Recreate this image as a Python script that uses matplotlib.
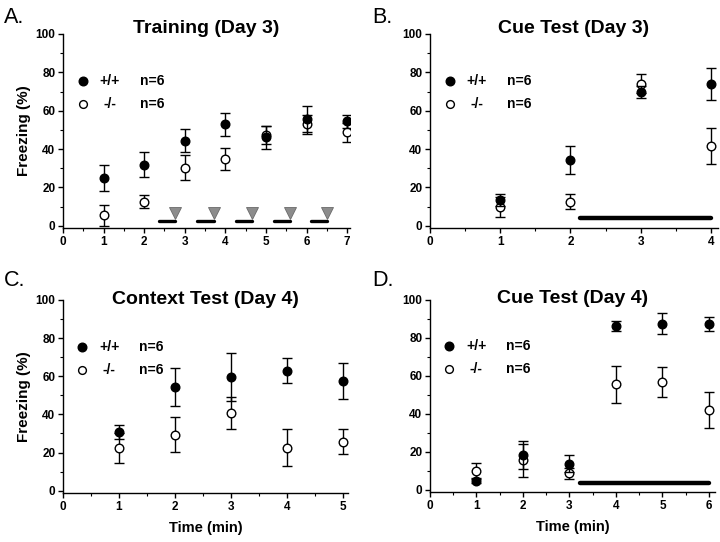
import matplotlib
matplotlib.use("Agg")
import matplotlib.pyplot as plt
import numpy as np

plt.rcParams['font.family'] = ['Liberation Sans', 'DejaVu Sans']

# ---------------- data ----------------
# Panel A: Training (Day 3)
a_time = [1, 2, 3, 4, 5, 6, 7]
a_wt = [25.0, 31.8, 44.3, 52.8, 46.2, 55.7, 54.5]
a_wt_err = [6.7, 6.4, 6.0, 6.0, 6.0, 7.0, 3.5]
a_ko = [5.5, 12.6, 30.3, 34.6, 47.4, 52.8, 48.8]
a_ko_err = [5.5, 3.5, 6.6, 5.7, 4.8, 5.2, 5.0]
a_tone_start = [2.37, 3.31, 4.26, 5.19, 6.11]
a_shock = [2.76, 3.71, 4.65, 5.60, 6.51]

# Panel B: Cue Test (Day 3)
b_time = [1, 2, 3, 4]
b_wt = [13.5, 34.4, 69.8, 73.9]
b_wt_err = [3.0, 7.4, 3.0, 8.2]
b_ko = [9.7, 12.5, 74.0, 41.6]
b_ko_err = [5.4, 4.0, 5.0, 9.6]
b_cue = [2.14, 4.0]

# Panel C: Context Test (Day 4)
c_time = [1, 2, 3, 4, 5]
c_wt = [30.6, 54.4, 59.8, 62.9, 57.4]
c_wt_err = [3.6, 9.9, 12.5, 6.6, 9.5]
c_ko = [22.4, 29.4, 40.7, 22.6, 25.6]
c_ko_err = [8.0, 9.1, 8.2, 9.6, 6.5]

# Panel D: Cue Test (Day 4)
d_time = [1, 2, 3, 4, 5, 6]
d_wt = [4.4, 18.2, 13.8, 86.2, 87.4, 87.4]
d_wt_err = [1.0, 7.5, 4.4, 2.7, 5.5, 3.5]
d_ko = [10.0, 15.6, 8.6, 55.5, 56.9, 41.9]
d_ko_err = [4.0, 8.7, 3.0, 9.6, 8.0, 9.6]
d_cue = [3.22, 6.0]

titles = ["Training (Day 3)", "Cue Test (Day 3)", "Context Test (Day 4)", "Cue Test (Day 4)"]
letters = ["A.", "B.", "C.", "D."]
legend_labels = ["+/+", "-/-"]
legend_n = ["n=6", "n=6"]

W, H = 720, 542
fig = plt.figure(figsize=(W / 100, H / 100), dpi=100)


def add_axes(left, right, top, bottom):
    return fig.add_axes([left / W, 1 - bottom / H, (right - left) / W, (bottom - top) / H])


axA = add_axes(63, 350, 34, 228)
axB = add_axes(430, 718, 34, 228)
axC = add_axes(63, 348, 300, 493)
axD = add_axes(430, 715, 300, 492)

panels = [
    (axA, a_time, a_wt, a_wt_err, a_ko, a_ko_err, 7.07),
    (axB, b_time, b_wt, b_wt_err, b_ko, b_ko_err, 4.1),
    (axC, c_time, c_wt, c_wt_err, c_ko, c_ko_err, 5.09),
    (axD, d_time, d_wt, d_wt_err, d_ko, d_ko_err, 6.13),
]

for i, (ax, t, wt, wte, ko, koe, xmax) in enumerate(panels):
    ax.errorbar(t, ko, yerr=koe, fmt='o', mfc='white', mec='black', mew=1.0, ms=6.2,
                ecolor='black', elinewidth=1.0, capsize=3.6, capthick=1.0, zorder=3)
    ax.errorbar(t, wt, yerr=wte, fmt='o', mfc='black', mec='black', mew=1.0, ms=6.2,
                ecolor='black', elinewidth=1.0, capsize=3.6, capthick=1.0, zorder=4)
    ax.set_xlim(0, xmax)
    ax.set_ylim(-1.2, 100)
    ax.set_yticks([0, 20, 40, 60, 80, 100])
    ax.set_yticks(np.arange(10, 100, 20), minor=True)
    ax.set_xticks(np.arange(0, int(xmax) + 1))
    ax.set_xticks(np.arange(0.5, xmax, 1.0), minor=True)
    for s in ['top', 'right']:
        ax.spines[s].set_visible(False)
    for s in ['left', 'bottom']:
        ax.spines[s].set_linewidth(1.0)
    ax.tick_params(which='major', direction='out', length=3.5, width=1.0, labelsize=8.5, pad=2)
    ax.tick_params(which='minor', direction='out', length=2, width=0.8)
    for lab in ax.get_xticklabels() + ax.get_yticklabels():
        lab.set_fontweight('bold')
    # legend
    tr = ax.get_yaxis_transform()
    ax.plot([0.068], [75.6], 'o', mfc='black', mec='black', ms=6.2, transform=tr, clip_on=False)
    ax.plot([0.068], [63.5], 'o', mfc='white', mec='black', mew=1.0, ms=5.6, transform=tr, clip_on=False)
    ax.text(0.128, 75.6, legend_labels[0], transform=tr, fontsize=10, fontweight='bold', va='center', ha='left')
    ax.text(0.14, 63.5, legend_labels[1], transform=tr, fontsize=10, fontweight='bold', va='center', ha='left')
    ax.text(0.268, 75.6, legend_n[0], transform=tr, fontsize=10, fontweight='bold', va='center', ha='left')
    ax.text(0.268, 63.5, legend_n[1], transform=tr, fontsize=10, fontweight='bold', va='center', ha='left')

# titles
title_y = [1.005, 1.005, 0.98, 0.985]
for ax, ttl, ty in zip([axA, axB, axC, axD], titles, title_y):
    ax.text(0.5, ty, ttl, transform=ax.transAxes, ha='center', va='baseline',
            fontsize=14, fontweight='bold')

# panel letters
letter_pos = [(4, 23), (372, 23), (4, 286), (372, 286)]
for (lx, ly), lt in zip(letter_pos, letters):
    fig.text(lx / W, 1 - ly / H, lt, fontsize=15.5, va='baseline', ha='left')

# y labels
for ax in [axA, axC]:
    ax.set_ylabel("Freezing (%)", fontsize=11, fontweight='bold', labelpad=3)
# x labels
for ax in [axC, axD]:
    ax.set_xlabel("Time (min)", fontsize=10.5, fontweight='bold', labelpad=6)

# tone bars and shocks in A
for s, e in zip(a_tone_start, a_shock):
    axA.plot([s, e], [2.2, 2.2], color='black', lw=2.4, solid_capstyle='round', zorder=2)
axA.plot(a_shock, [6.5] * len(a_shock), 'v', ms=8.5, mfc='#8c8c8c', mec='#6a6a6a', mew=0.6,
         zorder=2, linestyle='none')

# cue bars in B and D
axB.plot(b_cue, [3.8, 3.8], color='black', lw=3.2, solid_capstyle='round', zorder=2)
axD.plot(d_cue, [3.6, 3.6], color='black', lw=3.2, solid_capstyle='round', zorder=2)

fig.savefig("out.png", dpi=100)
